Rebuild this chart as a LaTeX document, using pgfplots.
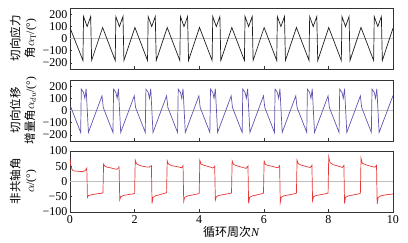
\documentclass[border=0pt]{standalone}
\usepackage{fontspec}
\setmainfont{Liberation Serif}
\newfontfamily\cjk{Noto Sans CJK SC}
\usepackage{pgfplots}
\pgfplotsset{compat=1.18}
\definecolor{c1}{RGB}{30,30,30}
\definecolor{c2}{RGB}{95,85,175}
\definecolor{c3}{RGB}{232,55,55}
\pgfplotsset{
 panel/.style={scale only axis, width=323pt, height=61pt, xmin=0, xmax=10,
  xtick={0,2,4,6,8,10},
  axis line style={black!80, line width=0.7pt},
  tick align=inside, xtick pos=bottom, ytick pos=left,
  major tick length=2.5pt, tick style={black!80, line width=0.5pt},
  tick label style={font=\fontsize{12}{13}\selectfont},
  yticklabel style={xshift=1pt},
  extra y ticks={0}, extra y tick labels={},
  extra y tick style={grid=major, major grid style={black!25, line width=0.5pt}, major tick length=0pt},
  every axis y label/.style={at={(axis description cs:-0.145,0.5)}, rotate=90, anchor=center, align=center, font=\fontsize{11.5}{14.5}\selectfont},
  anchor=south west}
}
\begin{document}
\begin{tikzpicture}
\useasboundingbox (0,0) rectangle (408pt,243pt);
% panel 1
\begin{axis}[panel, at={(70pt,174pt)}, ymin=-250, ymax=250,
  ytick={-200,-100,0,100,200}, yticklabels={−200,−100,0,100,200},
  xticklabels={},
  ylabel={{\cjk 切向应力}\\{\cjk 角}$\alpha_{\mathrm{T}}$/(°)}]
\addplot[c1, line width=0.7pt] coordinates {
(0,88) (0.40,-180) (0.42,180) (0.53,98) (0.64,180) (0.67,-180) (1.01,90)
(1.40,-180) (1.42,180) (1.53,98) (1.64,180) (1.67,-180) (2.01,90)
(2.40,-180) (2.42,180) (2.53,98) (2.64,180) (2.67,-180) (3.01,90)
(3.40,-180) (3.42,180) (3.53,98) (3.64,180) (3.67,-180) (4.01,90)
(4.40,-180) (4.42,180) (4.53,98) (4.64,180) (4.67,-180) (5.01,90)
(5.40,-180) (5.42,180) (5.53,98) (5.64,180) (5.67,-180) (6.01,90)
(6.40,-180) (6.42,180) (6.53,98) (6.64,180) (6.67,-180) (7.01,90)
(7.40,-180) (7.42,180) (7.53,98) (7.64,180) (7.67,-180) (8.01,90)
(8.40,-180) (8.42,180) (8.53,98) (8.64,180) (8.67,-180) (9.01,90)
(9.40,-180) (9.42,180) (9.53,98) (9.64,180) (9.67,-180) (10,85)
};
\end{axis}
% panel 2
\begin{axis}[panel, at={(70pt,102pt)}, ymin=-250, ymax=250,
  ytick={-200,-100,0,100,200}, yticklabels={−200,−100,0,100,200},
  xticklabels={},
  ylabel={{\cjk 切向位移}\\{\cjk 增量角}$\alpha_{du}$/(°)}]
\addplot[c2, line width=0.7pt] coordinates {
(0,35) (0.03,25) (0.33,-180) (0.35,175) (0.42,148) (0.46,100) (0.50,178) (0.57,-180) (0.99,120) (1.03,25)
(1.33,-180) (1.35,175) (1.42,148) (1.46,100) (1.50,178) (1.57,-180) (1.99,120) (2.03,25)
(2.33,-180) (2.35,175) (2.42,148) (2.46,100) (2.50,178) (2.57,-180) (2.99,120) (3.03,25)
(3.33,-180) (3.35,175) (3.42,148) (3.46,100) (3.50,178) (3.57,-180) (3.99,120) (4.03,25)
(4.33,-180) (4.35,175) (4.42,148) (4.46,100) (4.50,178) (4.57,-180) (4.99,120) (5.03,25)
(5.33,-180) (5.35,175) (5.42,148) (5.46,100) (5.50,178) (5.57,-180) (5.99,120) (6.03,25)
(6.33,-180) (6.35,175) (6.42,148) (6.46,100) (6.50,178) (6.57,-180) (6.99,120) (7.03,25)
(7.33,-180) (7.35,175) (7.42,148) (7.46,100) (7.50,178) (7.57,-180) (7.99,120) (8.03,25)
(8.33,-180) (8.35,175) (8.42,148) (8.46,100) (8.50,178) (8.57,-180) (8.99,120) (9.03,25)
(9.33,-180) (9.35,175) (9.42,148) (9.46,100) (9.50,178) (9.57,-180) (10,122)
};
\end{axis}
% panel 3
\begin{axis}[panel, at={(70pt,31pt)}, ymin=-100, ymax=100,
  ytick={-100,-50,0,50,100}, yticklabels={−100,−50,0,50,100},
  xticklabels={0,2,4,6,8,10},
  xlabel={{\cjk 循环周次}\textit{N}},
  xlabel style={font=\fontsize{12}{13}\selectfont, yshift=4pt},
  ylabel={{\cjk 非共轴角}\\$\alpha$/(°)}]
\addplot[c3, line width=0.7pt] coordinates {
(0,75) (0.02,55) (0.06,40) (0.10,35) (0.2,34) (0.3,33) (0.4,33) (0.46,35) (0.50,40) (0.52,44)
(0.54,-52) (0.57,-46) (0.65,-44) (0.75,-42) (0.85,-40) (0.95,-39) (1.02,-37)
(1.04,57) (1.08,50) (1.15,47) (1.25,45) (1.35,42) (1.45,40) (1.49,43) (1.52,48)
(1.54,-60) (1.57,-50) (1.65,-46) (1.75,-44) (1.85,-42) (1.95,-41) (2.00,-39)
(2.02,70) (2.06,58) (2.15,53) (2.25,50) (2.35,48) (2.45,47) (2.49,50) (2.52,52)
(2.54,-72) (2.57,-52) (2.65,-47) (2.75,-44) (2.85,-41) (2.95,-38) (2.99,-37)
(3.01,68) (3.05,57) (3.15,52) (3.25,50) (3.35,48) (3.45,45) (3.48,48) (3.50,52)
(3.52,-65) (3.55,-52) (3.65,-47) (3.75,-45) (3.85,-43) (3.95,-41) (4.00,-39)
(4.02,70) (4.06,57) (4.15,53) (4.25,50) (4.35,47) (4.42,44) (4.46,47) (4.48,50)
(4.50,-61) (4.53,-50) (4.6,-46) (4.7,-44) (4.8,-42) (4.9,-40) (5.00,-38)
(5.02,68) (5.06,56) (5.15,52) (5.25,49) (5.35,46) (5.45,43) (5.49,48) (5.51,51)
(5.53,-72) (5.56,-52) (5.65,-47) (5.75,-45) (5.85,-42) (5.95,-40) (5.99,-38)
(6.01,67) (6.05,56) (6.15,52) (6.25,50) (6.35,47) (6.44,45) (6.47,49) (6.49,52)
(6.51,-69) (6.54,-52) (6.62,-47) (6.72,-45) (6.82,-43) (6.92,-41) (7.01,-38)
(7.03,70) (7.07,58) (7.15,54) (7.25,51) (7.35,48) (7.44,46) (7.47,50) (7.49,53)
(7.51,-63) (7.54,-50) (7.62,-46) (7.72,-44) (7.82,-42) (7.92,-40) (7.99,-38)
(8.01,81) (8.05,62) (8.15,55) (8.25,52) (8.35,49) (8.43,46) (8.46,50) (8.48,53)
(8.50,-72) (8.53,-52) (8.62,-47) (8.72,-45) (8.82,-43) (8.92,-41) (8.99,-39)
(9.01,76) (9.05,60) (9.15,55) (9.25,52) (9.35,49) (9.44,47) (9.47,50) (9.49,53)
(9.51,-74) (9.54,-52) (9.62,-47) (9.72,-45) (9.82,-43) (9.92,-42) (10,-41)
};
\end{axis}
\end{tikzpicture}
\end{document}
